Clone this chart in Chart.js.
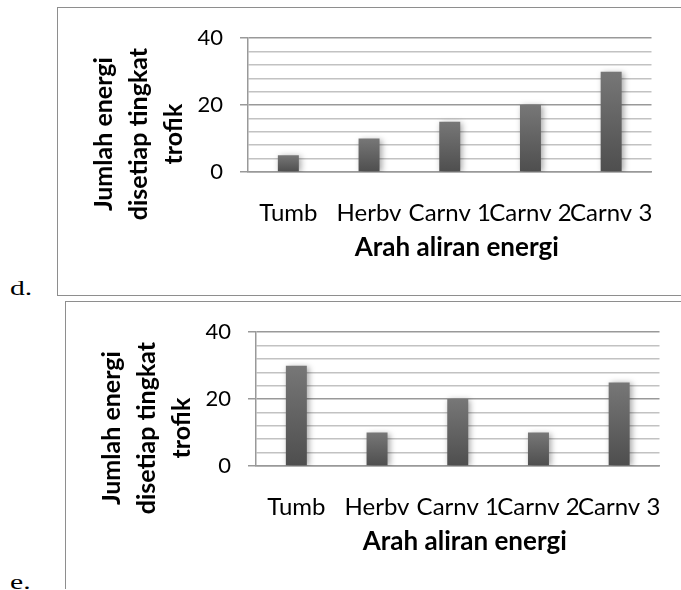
<!DOCTYPE html>
<html>
<head>
<meta charset="utf-8">
<script src="https://cdn.jsdelivr.net/npm/chart.js@4.4.1/dist/chart.umd.min.js"></script>
<style>
  html, body { margin: 0; padding: 0; background: #fff; width: 681px; height: 590px; overflow: hidden; }
  .box { position: absolute; border-left: 1px solid #8e8e8e; border-top: 1px solid #8e8e8e; width: 660px; height: 287px; }
  #boxD { left: 57px; top: 7px; border-bottom: 1px solid #8e8e8e; }
  #boxE { left: 65px; top: 301px; }
  .tag { position: absolute; font-family: 'Liberation Serif', 'Times New Roman', serif; font-size: 22px; line-height: 22px; transform: scaleX(1.35); transform-origin: left top; }
</style>
</head>
<body>
<div class="box" id="boxD"><canvas id="chartD" width="623" height="287"></canvas></div>
<div class="tag" style="left:10px; top:277px;">d.</div>
<div class="box" id="boxE"><canvas id="chartE" width="623" height="287"></canvas></div>
<div class="tag" style="left:10px; top:571px;">e.</div>

<script>
const categories = ['Tumb', 'Herbv', 'Carnv 1', 'Carnv 2', 'Carnv 3'];
const valuesD = [5, 10, 15, 20, 30];
const valuesE = [30, 10, 20, 10, 25];
const yTicksMax = 40;
const yTickStep = 4;
const yLabelStep = 20;
const yTitleLines = ['Jumlah energi', 'disetiap tingkat', 'trofik'];
const xTitle = 'Arah aliran energi';

const majorGrid = '#999999';
const minorGrid = '#c2c2c2';

// soft shadow behind the bars, like the office chart
const barShadow = {
    id: 'barShadow',
    beforeDatasetsDraw(chart) {
        const c = chart.ctx;
        c.save();
        c.shadowColor = 'rgba(0,0,0,0.35)';
        c.shadowBlur = 6;
        c.shadowOffsetX = 2;
        c.shadowOffsetY = 1;
    },
    afterDatasetsDraw(chart) {
        chart.ctx.restore();
    }
};

// axis titles: three-line rotated y title, and the x title a little right of centre
const axisTitles = {
    id: 'axisTitles',
    afterDraw(chart) {
        const c = chart.ctx;
        const area = chart.chartArea;
        c.save();
        c.fillStyle = '#000';
        c.textAlign = 'center';
        c.textBaseline = 'alphabetic';
        c.font = 'bold 26px Lato';
        c.fillText(xTitle, (area.left + area.right) / 2 + 7, area.bottom + 84);
        c.translate(area.left - 136, (area.top + area.bottom) / 2 + 29);
        c.rotate(-Math.PI / 2);
        c.font = 'bold 25px Lato';
        yTitleLines.forEach((line, i) => c.fillText(line, 0, i * 35));
        c.restore();
    }
};

function barGradient(context) {
    const chart = context.chart;
    const area = chart.chartArea;
    if (!area || !context.parsed) return '#606060';
    const top = chart.scales.y.getPixelForValue(context.parsed.y);
    const g = chart.ctx.createLinearGradient(0, top, 0, area.bottom);
    g.addColorStop(0, '#777777');
    g.addColorStop(1, '#4e4e4e');
    return g;
}

function makeChart(id, values) {
    const ctx = document.getElementById(id).getContext('2d');
    return new Chart(ctx, {
        type: 'bar',
        data: {
            labels: categories,
            datasets: [{
                data: values,
                backgroundColor: barGradient,
                borderWidth: 0,
                barPercentage: 0.26,
                categoryPercentage: 1
            }]
        },
        options: {
            responsive: false,
            animation: false,
            devicePixelRatio: 1,
            layout: { padding: { left: 0, top: 30, right: 17, bottom: 0 } },
            plugins: { legend: { display: false }, tooltip: { enabled: false } },
            scales: {
                x: {
                    afterFit(scale) { scale.height = 123; },
                    grid: { display: false, drawTicks: false },
                    border: { display: true, color: majorGrid, width: 1.5 },
                    ticks: {
                        autoSkip: false, maxRotation: 0, minRotation: 0,
                        padding: 27, color: '#000',
                        font: { family: 'Lato', size: 24 }
                    }
                },
                y: {
                    min: 0, max: yTicksMax,
                    afterFit(scale) { scale.width = 190; },
                    grid: {
                        color: c => (c.tick && c.tick.value % yLabelStep === 0) ? majorGrid : minorGrid,
                        tickColor: c => (c.tick && c.tick.value % yLabelStep === 0) ? majorGrid : 'rgba(0,0,0,0)',
                        lineWidth: 1.5,
                        tickLength: 8
                    },
                    border: { display: true, color: majorGrid, width: 1.5 },
                    ticks: {
                        stepSize: yTickStep, autoSkip: false,
                        padding: 17, color: '#000',
                        font: { family: 'Lato', size: 22 },
                        callback: v => (v % yLabelStep === 0 ? v : '')
                    }
                }
            }
        },
        plugins: [barShadow, axisTitles]
    });
}

makeChart('chartD', valuesD);
makeChart('chartE', valuesE);
</script>
</body>
</html>
